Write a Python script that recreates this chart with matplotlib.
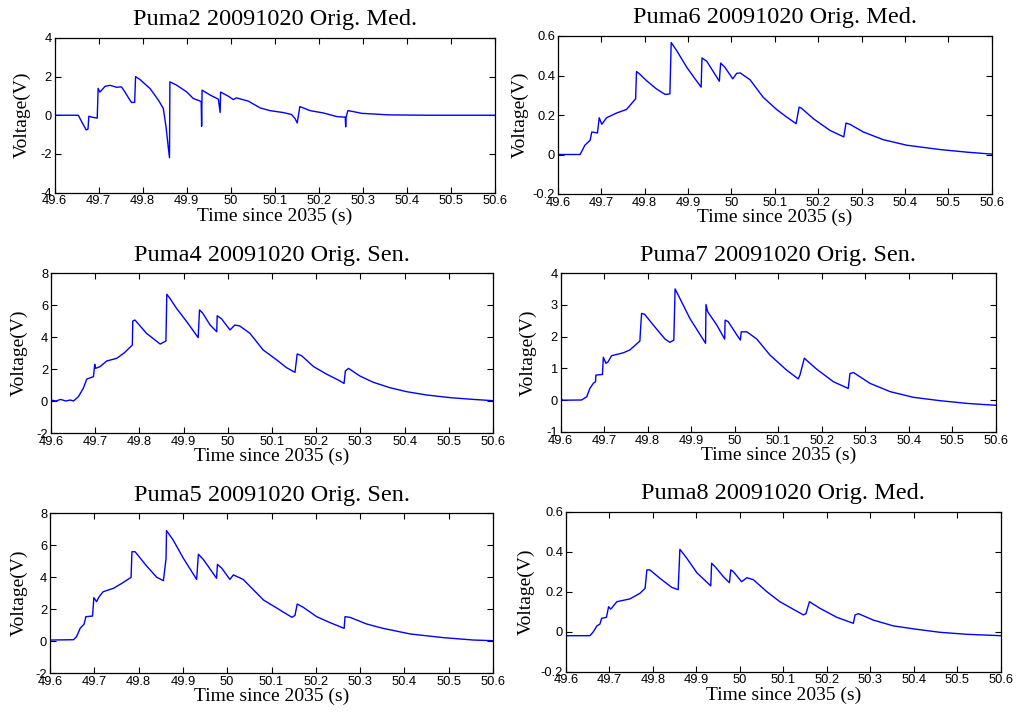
import numpy as np
import matplotlib
matplotlib.use("Agg")
import matplotlib.pyplot as plt

# --- data (time in s, voltage in V) ---
puma2_t = [49.600, 49.654, 49.662, 49.672, 49.676, 49.678, 49.685, 49.697, 49.699, 49.703,
           49.715, 49.726, 49.741, 49.752, 49.760, 49.768, 49.775, 49.782, 49.784, 49.794,
           49.817, 49.836, 49.847, 49.853, 49.858, 49.861, 49.862, 49.877, 49.900, 49.915,
           49.930, 49.933, 49.934, 49.935, 49.953, 49.972, 49.976, 49.977, 49.995, 50.006,
           50.013, 50.040, 50.067, 50.089, 50.119, 50.138, 50.146, 50.151, 50.157, 50.180,
           50.210, 50.241, 50.260, 50.261, 50.262, 50.266, 50.278, 50.297, 50.358, 50.452,
           50.600]
puma2_v = [0.0, 0.0, -0.35, -0.76, -0.72, -0.05, -0.1, -0.15, 1.39, 1.2,
           1.5, 1.55, 1.45, 1.47, 1.2, 0.9, 0.66, 0.67, 2.0, 1.85,
           1.38, 0.78, 0.35, -0.57, -1.6, -2.2, 1.73, 1.56, 1.21, 0.87,
           0.74, 0.70, -0.57, 1.3, 1.05, 0.83, 0.14, 1.2, 0.98, 0.81,
           0.9, 0.73, 0.38, 0.24, 0.14, 0.04, -0.17, -0.4, 0.45, 0.24,
           0.12, -0.07, -0.1, -0.6, -0.1, 0.24, 0.19, 0.1, 0.02, 0.0,
           0.0]

puma6_t = [49.600, 49.651, 49.662, 49.674, 49.678, 49.691, 49.695, 49.701, 49.712, 49.735,
           49.758, 49.779, 49.781, 49.788, 49.804, 49.827, 49.847, 49.858, 49.861, 49.874,
           49.897, 49.916, 49.930, 49.932, 49.943, 49.972, 49.975, 49.985, 50.003, 50.012,
           50.020, 50.043, 50.073, 50.104, 50.127, 50.149, 50.156, 50.161, 50.189, 50.227,
           50.259, 50.264, 50.273, 50.304, 50.350, 50.404, 50.481, 50.542, 50.600]
puma6_v = [0.0, 0.0, 0.047, 0.072, 0.114, 0.109, 0.186, 0.153, 0.186, 0.21,
           0.228, 0.282, 0.42, 0.408, 0.374, 0.332, 0.304, 0.307, 0.567, 0.525,
           0.441, 0.383, 0.341, 0.489, 0.472, 0.371, 0.463, 0.441, 0.383, 0.411,
           0.413, 0.378, 0.29, 0.228, 0.19, 0.156, 0.24, 0.235, 0.181, 0.122,
           0.089, 0.159, 0.153, 0.114, 0.075, 0.047, 0.025, 0.012, 0.002]

puma4_t = [49.600, 49.611, 49.622, 49.633, 49.644, 49.651, 49.662, 49.673, 49.681, 49.696,
           49.699, 49.701, 49.711, 49.726, 49.749, 49.767, 49.784, 49.785, 49.790, 49.816,
           49.847, 49.860, 49.862, 49.869, 49.884, 49.907, 49.933, 49.936, 49.943, 49.960,
           49.975, 49.976, 49.986, 50.005, 50.016, 50.027, 50.050, 50.080, 50.111, 50.133,
           50.152, 50.157, 50.167, 50.194, 50.224, 50.250, 50.263, 50.266, 50.273, 50.299,
           50.329, 50.367, 50.405, 50.450, 50.503, 50.555, 50.600]
puma4_v = [0.06, 0.0, 0.1, 0.0, 0.06, 0.0, 0.27, 0.79, 1.375, 1.52,
           2.29, 2.04, 2.15, 2.5, 2.67, 3.04, 3.5, 5.0, 5.06, 4.23,
           3.56, 3.75, 6.67, 6.42, 5.79, 4.96, 3.96, 5.69, 5.5, 4.75,
           4.33, 5.33, 5.13, 4.44, 4.75, 4.69, 4.23, 3.19, 2.56, 2.08,
           1.79, 2.94, 2.83, 2.15, 1.67, 1.31, 1.10, 1.875, 2.04, 1.56,
           1.17, 0.83, 0.58, 0.375, 0.21, 0.1, 0.02]

puma7_t = [49.600, 49.605, 49.648, 49.660, 49.667, 49.675, 49.680, 49.681, 49.696, 49.698,
           49.704, 49.709, 49.717, 49.744, 49.759, 49.782, 49.784, 49.786, 49.793, 49.813,
           49.840, 49.851, 49.860, 49.863, 49.874, 49.897, 49.933, 49.934, 49.938, 49.959,
           49.977, 49.978, 49.985, 50.005, 50.013, 50.015, 50.028, 50.051, 50.081, 50.119,
           50.146, 50.150, 50.160, 50.188, 50.227, 50.261, 50.265, 50.273, 50.311, 50.357,
           50.411, 50.472, 50.533, 50.600]
puma7_v = [0.06, 0.0, 0.006, 0.11, 0.37, 0.53, 0.58, 0.79, 0.81, 1.35,
           1.16, 1.21, 1.40, 1.49, 1.58, 1.86, 2.33, 2.73, 2.70, 2.36,
           1.92, 1.82, 1.89, 3.50, 3.20, 2.57, 1.79, 3.01, 2.78, 2.36,
           1.92, 2.52, 2.47, 2.05, 1.89, 2.15, 2.15, 1.92, 1.42, 0.95,
           0.67, 0.79, 1.32, 0.98, 0.58, 0.37, 0.84, 0.87, 0.53, 0.27,
           0.09, -0.015, -0.10, -0.16]

puma5_t = [49.600, 49.653, 49.660, 49.668, 49.677, 49.681, 49.696, 49.699, 49.705, 49.711,
           49.720, 49.743, 49.762, 49.783, 49.785, 49.792, 49.818, 49.841, 49.856, 49.862,
           49.863, 49.878, 49.901, 49.931, 49.935, 49.946, 49.976, 49.978, 49.988, 50.006,
           50.014, 50.036, 50.082, 50.119, 50.146, 50.153, 50.158, 50.172, 50.202, 50.232,
           50.264, 50.266, 50.277, 50.315, 50.352, 50.413, 50.488, 50.556, 50.600]
puma5_v = [0.06, 0.08, 0.27, 0.79, 1.06, 1.52, 1.56, 2.71, 2.46, 2.77,
           3.08, 3.29, 3.6, 3.98, 5.58, 5.58, 4.69, 3.98, 3.77, 5.17,
           6.9, 6.31, 5.17, 3.85, 5.42, 5.1, 3.92, 4.79, 4.54, 3.85,
           4.13, 3.85, 2.56, 1.94, 1.48, 1.6, 2.31, 2.1, 1.52, 1.15,
           0.79, 1.52, 1.48, 1.06, 0.79, 0.44, 0.21, 0.06, 0.02]

puma8_t = [49.600, 49.655, 49.663, 49.671, 49.678, 49.682, 49.693, 49.698, 49.703, 49.717,
           49.747, 49.770, 49.782, 49.786, 49.793, 49.816, 49.843, 49.858, 49.862, 49.878,
           49.901, 49.933, 49.935, 49.943, 49.962, 49.976, 49.979, 49.985, 50.004, 50.016,
           50.031, 50.062, 50.092, 50.123, 50.146, 50.152, 50.160, 50.184, 50.223, 50.261,
           50.265, 50.273, 50.307, 50.353, 50.407, 50.460, 50.522, 50.600]
puma8_v = [-0.02, -0.02, 0.0, 0.029, 0.038, 0.067, 0.072, 0.125, 0.113, 0.15,
           0.164, 0.192, 0.217, 0.309, 0.309, 0.267, 0.222, 0.21, 0.412, 0.367,
           0.295, 0.229, 0.342, 0.325, 0.275, 0.245, 0.309, 0.3, 0.25, 0.27,
           0.26, 0.2, 0.15, 0.112, 0.084, 0.09, 0.15, 0.117, 0.072, 0.042,
           0.084, 0.09, 0.058, 0.029, 0.012, -0.003, -0.013, -0.02]

titles = ["Puma2 20091020 Orig. Med.", "Puma6 20091020 Orig. Med.",
          "Puma4 20091020 Orig. Sen.", "Puma7 20091020 Orig. Sen.",
          "Puma5 20091020 Orig. Sen.", "Puma8 20091020 Orig. Med."]
x_ticks = [49.6, 49.7, 49.8, 49.9, 50.0, 50.1, 50.2, 50.3, 50.4, 50.5, 50.6]
x_labels = ["49.6", "49.7", "49.8", "49.9", "50", "50.1", "50.2", "50.3", "50.4", "50.5", "50.6"]
y_ticks_2 = [-4, -2, 0, 2, 4]
y_ticks_6 = [-0.2, 0, 0.2, 0.4, 0.6]
y_ticks_4 = [-2, 0, 2, 4, 6, 8]
y_ticks_7 = [-1, 0, 1, 2, 3, 4]
y_labels_6 = ["-0.2", "0", "0.2", "0.4", "0.6"]

# --- figure ---
W, H = 1018, 719
fig = plt.figure(figsize=(W / 100, H / 100), dpi=100)

SERIF = ["Liberation Serif", "DejaVu Serif"]
SANS = ["Liberation Sans", "DejaVu Sans"]

# pixel boxes (left, top, right, bottom) of each axes
boxes = [(54.5, 38, 495, 192.5), (558, 36, 991.7, 194),
         (51, 273, 493, 433), (560.7, 273, 995.7, 432),
         (50, 513, 493, 673), (566, 511.7, 1000.7, 671.7)]
ylabel_x = [31, 529, 28, 537, 28, 535]   # pixel x of the y-label anchor

series = [(puma2_t, puma2_v), (puma6_t, puma6_v), (puma4_t, puma4_v),
          (puma7_t, puma7_v), (puma5_t, puma5_v), (puma8_t, puma8_v)]
yticks = [y_ticks_2, y_ticks_6, y_ticks_4, y_ticks_7, y_ticks_4, y_ticks_6]

for i, ((l, t, r, b), (tt, vv)) in enumerate(zip(boxes, series)):
    ax = fig.add_axes([l / W, 1 - b / H, (r - l) / W, (b - t) / H])
    ax.plot(tt, vv, color=(0, 0, 1), lw=1.0)
    ax.set_xlim(49.6, 50.6)
    ax.set_ylim(yticks[i][0], yticks[i][-1])
    ax.set_xticks(x_ticks)
    ax.set_xticklabels(x_labels, family=SANS, fontsize=9.3)
    ax.set_yticks(yticks[i])
    if yticks[i] is y_ticks_6:
        ax.set_yticklabels(y_labels_6, family=SANS, fontsize=9.3)
    else:
        ax.set_yticklabels([str(v) for v in yticks[i]], family=SANS, fontsize=9.3)
    ax.tick_params(direction="in", length=4, width=0.8, top=True, right=True, pad=2)
    for s in ax.spines.values():
        s.set_linewidth(0.9)
    ax.set_title(titles[i], family=SERIF, fontsize=17.5, pad=9)
    ax.set_xlabel("Time since 2035 (s)", family=SERIF, fontsize=14, labelpad=0)
    ax.set_ylabel("Voltage(V)", family=SERIF, fontsize=14)
    ax.yaxis.set_label_coords((ylabel_x[i] - l) / (r - l), 0.5)

fig.savefig("out.png", dpi=100)
